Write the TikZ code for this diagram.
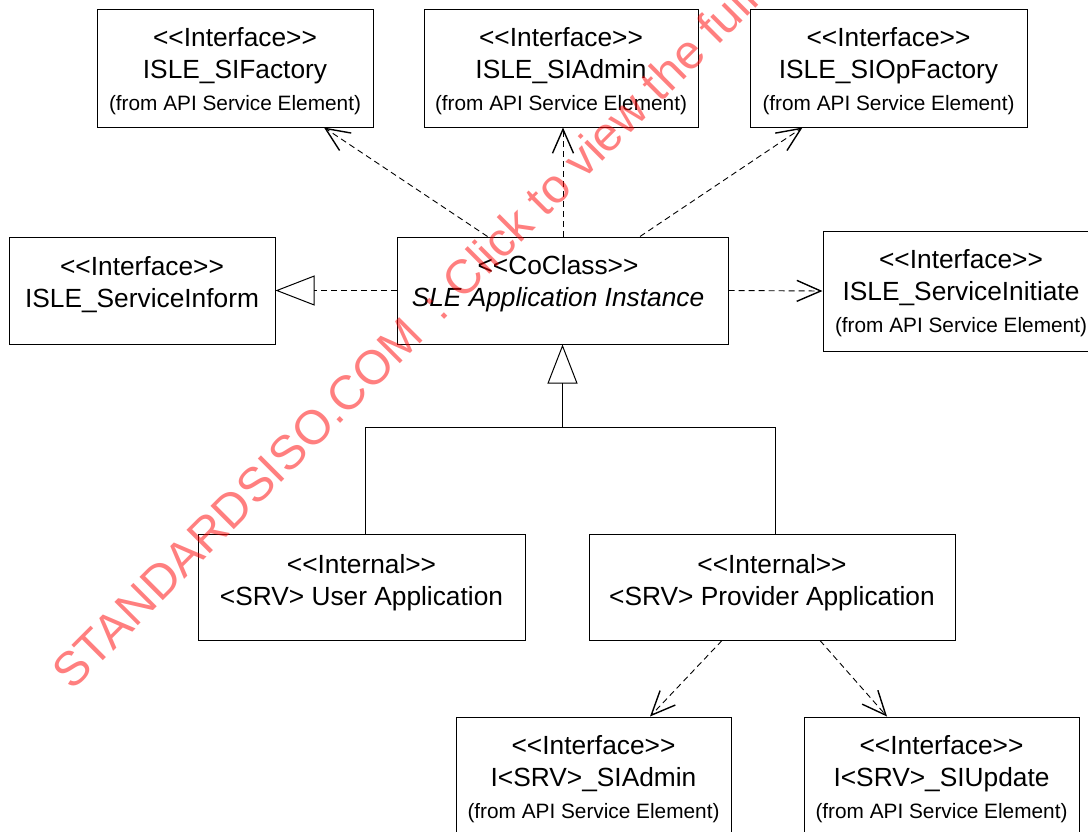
\documentclass[tikz,border=0pt]{standalone}
\usepackage{fontspec}
\setmainfont{Liberation Sans}
\usetikzlibrary{arrows.meta}
\newcommand\mainsz{\fontsize{26.3pt}{32pt}\selectfont}
\newcommand\subsz{\fontsize{20.8pt}{31pt}\selectfont}
\definecolor{wmred}{RGB}{255,0,0}
\begin{document}
\begin{tikzpicture}[x=1pt,y=-1pt,
  box/.style={draw, line width=1pt, rectangle, inner sep=0pt},
  lab/.style={align=center, anchor=base, inner sep=0pt, font=\mainsz},
  dep/.style={line width=0.9pt, dash pattern=on 6pt off 4pt,
    -{Straight Barb[length=24pt,width=21pt,line width=1.4pt]}},
  real/.style={line width=0.9pt, dash pattern=on 6pt off 4pt,
    -{Triangle[open,length=39pt,width=30pt,line width=1pt]}},
  gen/.style={line width=1pt, -{Triangle[open,length=39pt,width=30pt,line width=1pt]}},
  tree/.style={line width=1pt},
  wm/.style={text=wmred, text opacity=0.5, inner sep=0pt, font=\fontsize{48pt}{50pt}\selectfont}]
\useasboundingbox (0,0) rectangle (1088,831);
\clip (0,0) rectangle (1088,831);
% boxes
\node[box, minimum width=276pt, minimum height=118pt] (sif) at (235,68) {};
\node[box, minimum width=274pt, minimum height=118pt] (sia) at (561,68) {};
\node[box, minimum width=277pt, minimum height=118pt] (siop) at (888.5,68) {};
\node[box, minimum width=266pt, minimum height=107pt] (inform) at (142,290.5) {};
\node[box, minimum width=331pt, minimum height=107pt] (co) at (562.5,290.5) {};
\node[box, minimum width=274pt, minimum height=120pt] (initiate) at (960,291) {};
\node[box, minimum width=327pt, minimum height=106pt] (user) at (361.5,587) {};
\node[box, minimum width=366pt, minimum height=106pt] (prov) at (772,587) {};
\node[box, minimum width=275pt, minimum height=130pt] (ba) at (593.5,782) {};
\node[box, minimum width=275pt, minimum height=130pt] (bu) at (941.5,782) {};
% labels (anchor = baseline of the last line)
\node[lab] (sifT) at (235,110) {<{}<Interface>{}>\\ISLE\_SIFactory\\{\subsz (from API Service Element)}};
\node[lab] (siaT) at (561,110) {<{}<Interface>{}>\\ISLE\_SIAdmin\\{\subsz (from API Service Element)}};
\node[lab] (siopT) at (888.5,110) {<{}<Interface>{}>\\ISLE\_SIOpFactory\\{\subsz (from API Service Element)}};
\node[lab] (informT) at (142,307) {<{}<Interface>{}>\\ISLE\_ServiceInform};
\node[lab] (coT) at (558,306) {<{}<CoClass>{}>\\\textit{SLE Application Instance}};
\node[lab] (initiateT) at (961,332) {<{}<Interface>{}>\\ISLE\_ServiceInitiate\\{\subsz (from API Service Element)}};
\node[lab] (userT) at (361.5,605) {<{}<Internal>{}>\\<SRV> User Application};
\node[lab] (provT) at (772,605) {<{}<Internal>{}>\\<SRV> Provider Application};
\node[lab] (baT) at (593.5,818) {<{}<Interface>{}>\\I<SRV>\_SIAdmin\\{\subsz (from API Service Element)}};
\node[lab] (buT) at (941.5,818) {<{}<Interface>{}>\\I<SRV>\_SIUpdate\\{\subsz (from API Service Element)}};
% dependencies
\draw[dep] ([xshift=-75pt]co.north) -- ([xshift=89pt]sif.south);
\draw[dep] ([xshift=0.5pt]co.north) -- ([xshift=2pt]sia.south);
\draw[dep] ([xshift=77.5pt]co.north) -- ([xshift=-86pt]siop.south);
\draw[real] (co.west) -- (inform.east);
\draw[dep] (co.east) -- (initiate.west);
\draw[dep] ([xshift=-50pt]prov.south) -- ([xshift=56.5pt]ba.north);
\draw[dep] ([xshift=48pt]prov.south) -- ([xshift=-54.5pt]bu.north);
% generalization tree
\coordinate (j) at (562.5,427);
\coordinate (ut) at ([xshift=3.5pt]user.north);
\coordinate (pvt) at ([xshift=3pt]prov.north);
\draw[tree] (ut) |- (pvt |- j) -- (pvt);
\draw[gen] (j) -- (co.south);
% watermark
\node[wm, rotate=45, anchor=base west] (wmk) at (72,692) {STANDARDSISO.COM\hspace{8pt} :\hspace{4pt} Click to view the full};
\end{tikzpicture}
\end{document}
